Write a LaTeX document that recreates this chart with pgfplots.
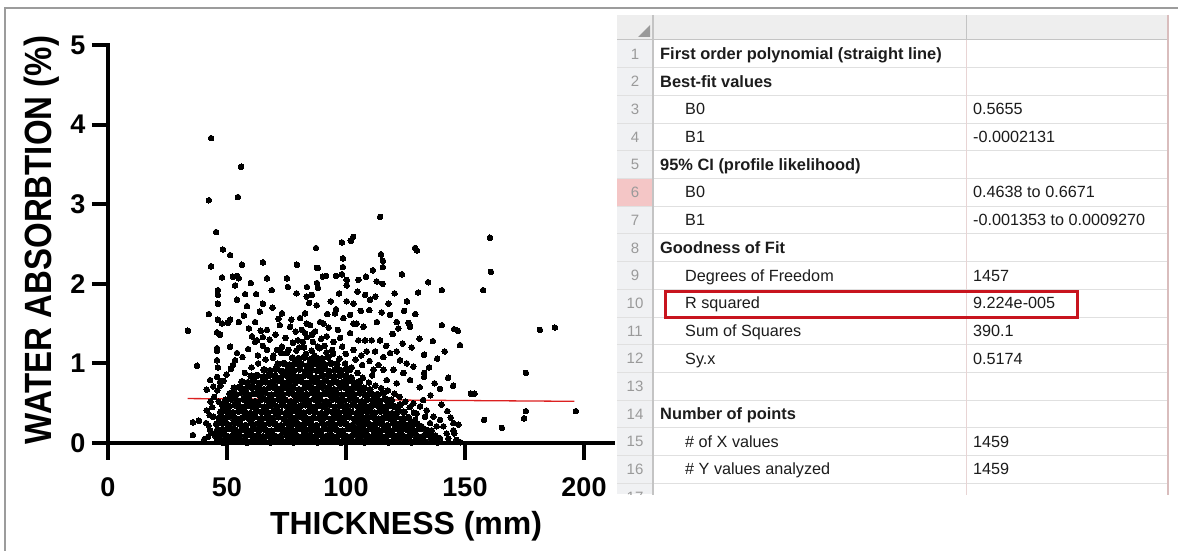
\documentclass[border=0pt]{standalone}
\usepackage{pgfplots}
\pgfplotsset{compat=1.18}
\usepackage{fontspec}
\setmainfont{Liberation Sans}
\definecolor{framec}{HTML}{9C9C9C}
\definecolor{gridc}{HTML}{E0E0E0}
\definecolor{hdrbg}{HTML}{EEEEEE}
\definecolor{numbg}{HTML}{F0F1F3}
\definecolor{numtx}{HTML}{9A9A9A}
\definecolor{numline}{HTML}{C4C4C4}
\definecolor{pinkbg}{HTML}{F4C6C6}
\definecolor{pinkline}{HTML}{E8D4D4}
\definecolor{rightline}{HTML}{D9BDBD}
\definecolor{redbox}{HTML}{C8141E}
\definecolor{fitred}{HTML}{DC2020}
\definecolor{tabtx}{HTML}{1C1C1C}
\begin{document}
\begin{tikzpicture}[x=1pt,y=1pt]
\useasboundingbox (0,0) rectangle (1178,550);
\fill[white] (0,0) rectangle (1178,550);
\begin{scope}[shift={(0,550)},yscale=-1]
% outer frame
\draw[framec, line width=1.6pt] (5,560) -- (5,8) -- (1185,8);
% table backgrounds
\fill[hdrbg] (617,15) rectangle (1168,40);
\fill[numbg] (617,40) rectangle (653,494);
\fill[pinkbg] (617,178.5) rectangle (653,206.2);
\begin{scope}
\clip (610,12) rectangle (1172,494);
\foreach \i in {0,...,17} \draw[gridc, line width=1pt] (617,{40+27.7*\i}) -- (1168,{40+27.7*\i});
\draw[numline, line width=1pt] (617,40) -- (1168,40);
\draw[numline, line width=1.2pt] (653,15) -- (653,500);
\draw[numline, line width=1pt] (966,15) -- (966,40);
\draw[pinkline, line width=1pt] (966,40) -- (966,500);
\draw[rightline, line width=1.4pt] (1168,15) -- (1168,500);
\foreach \i in {1,...,17} \node[anchor=base, inner sep=0pt, text=numtx, font=\fontsize{15}{18}\selectfont] at (635,{40+27.7*(\i-0.5)+5.3}) {\i};
\end{scope}
\fill[numtx] (638,37) -- (650,37) -- (650,25) -- cycle;
% table text
\tikzset{tb/.style={anchor=base west, inner sep=0pt, text=tabtx, font=\fontsize{16.4}{19}\selectfont\bfseries},
         tn/.style={anchor=base west, inner sep=0pt, text=tabtx, font=\fontsize{16.2}{19}\selectfont}}
\node[tb] at (660,59.4) {First order polynomial (straight line)};
\node[tb] at (660,87.1) {Best-fit values};
\node[tn] at (685,114.8) {B0};
\node[tn] at (973,114.8) {0.5655};
\node[tn] at (685,142.5) {B1};
\node[tn] at (973,142.5) {-0.0002131};
\node[tb] at (660,170.2) {95\% CI (profile likelihood)};
\node[tn] at (685,197.9) {B0};
\node[tn] at (973,197.9) {0.4638 to 0.6671};
\node[tn] at (685,225.6) {B1};
\node[tn] at (973,225.6) {-0.001353 to 0.0009270};
\node[tb] at (660,253.3) {Goodness of Fit};
\node[tn] at (685,281.0) {Degrees of Freedom};
\node[tn] at (973,281.0) {1457};
\node[tn] at (685,308.7) {R squared};
\node[tn] at (973,308.7) {9.224e-005};
\node[tn] at (685,336.4) {Sum of Squares};
\node[tn] at (973,336.4) {390.1};
\node[tn] at (685,364.1) {Sy.x};
\node[tn] at (973,364.1) {0.5174};
\node[tb] at (660,419.5) {Number of points};
\node[tn] at (685,447.2) {\# of X values};
\node[tn] at (973,447.2) {1459};
\node[tn] at (685,474.9) {\# Y values analyzed};
\node[tn] at (973,474.9) {1459};
\draw[redbox, line width=3pt] (665,291.5) rectangle (1077,317);
\end{scope}
\begin{axis}[
  at={(108pt,107pt)}, anchor=south west,
  x=2.38pt, y=79.6pt,
  xmin=0, xmax=213, ymin=0, ymax=5,
  axis lines=left,
  axis line style={line width=4pt, -},
  xtick={0,50,100,150,200}, ytick={0,1,2,3,4,5},
  tick align=outside, major tick length=16pt,
  every tick/.style={black, line width=4pt},
  major tick style={black, line width=4pt},
  /pgf/number format/assume math mode=true,
  ticklabel style={font=\fontsize{27}{27}\selectfont\bfseries},
  xticklabel style={yshift=-15pt},
  yticklabel style={xshift=-3pt},
  xlabel={THICKNESS (mm)},
  xlabel style={font=\fontsize{32}{32}\selectfont\bfseries, at={(axis description cs:0.588,-0.231)}, anchor=base},
  ylabel={\scalebox{1}[1.15]{WATER ABSORBTION (\%)}},
  ylabel style={font=\fontsize{33}{33}\selectfont\bfseries, at={(axis description cs:-0.1124,0.51)}, anchor=base},
  clip=false,
]
\addplot[fitred, line width=1.3pt] coordinates {(33.5,0.5584) (196,0.5237)};
% dense core of the cloud
\addplot[only marks, mark=*, mark size=3.3pt, mark options={fill=black, draw=black, line width=0pt}] coordinates {
(46.0,0.03)(48.4,0.01)(51.1,0.04)(53.5,0.02)(55.8,0.03)(58.4,0.01)(60.9,0.04)(63.2,0.02)(65.7,0.03)(68.3,0.01)(70.6,0.04)(73.1,0.02)(75.7,0.03)(78.0,0.01)(80.6,0.03)(83.1,0.02)(85.4,0.04)(88.0,0.01)(90.5,0.03)(92.9,0.02)(95.4,0.04)(97.9,0.01)(100.3,0.03)(102.8,0.02)(105.4,0.04)(107.7,0.01)(110.3,0.03)(112.8,0.02)(115.2,0.04)(117.8,0.01)(120.1,0.03)(122.7,0.02)(125.2,0.04)(127.6,0.01)(130.3,0.03)(133.0,0.02)(135.8,0.04)(138.4,0.01)
(45.3,0.09)(47.6,0.10)(50.2,0.08)(52.7,0.10)(55.0,0.09)(57.6,0.08)(60.1,0.10)(62.5,0.09)(65.0,0.08)(67.4,0.10)(69.9,0.09)(72.4,0.08)(74.9,0.10)(77.3,0.09)(79.9,0.08)(82.3,0.10)(84.8,0.09)(87.2,0.08)(89.7,0.10)(92.2,0.09)(94.6,0.08)(97.1,0.10)(99.6,0.09)(102.1,0.08)(104.5,0.10)(107.0,0.09)(109.5,0.08)(111.9,0.10)(114.4,0.09)(116.9,0.08)(119.4,0.10)(121.8,0.09)(124.3,0.08)(126.9,0.10)(129.5,0.09)(132.2,0.08)(134.9,0.10)(137.5,0.09)
(46.1,0.17)(48.7,0.16)(51.2,0.18)(53.6,0.16)(56.2,0.17)(58.7,0.15)(61.1,0.18)(63.6,0.16)(66.1,0.17)(68.6,0.15)(71.1,0.18)(73.5,0.16)(76.0,0.17)(78.6,0.15)(81.0,0.18)(83.5,0.16)(86.0,0.17)(88.5,0.15)(91.0,0.18)(93.4,0.16)(95.9,0.17)(98.4,0.15)(100.9,0.18)(103.4,0.16)(105.8,0.17)(108.3,0.15)(110.8,0.18)(113.3,0.16)(115.8,0.17)(118.2,0.15)(120.7,0.18)(123.2,0.16)(125.8,0.17)(128.4,0.15)(131.1,0.18)(133.6,0.16)
(45.6,0.24)(47.9,0.25)(50.4,0.23)(52.9,0.25)(55.4,0.24)(57.9,0.22)(60.3,0.25)(62.8,0.24)(65.3,0.23)(67.8,0.25)(70.2,0.24)(72.7,0.22)(75.2,0.25)(77.7,0.24)(80.2,0.23)(82.7,0.25)(85.2,0.24)(87.6,0.22)(90.1,0.25)(92.6,0.24)(95.1,0.23)(97.6,0.25)(100.1,0.24)(102.5,0.22)(105.0,0.25)(107.5,0.24)(110.0,0.23)(112.5,0.25)(115.0,0.24)(117.4,0.22)(119.9,0.25)(122.4,0.24)(124.9,0.23)(127.4,0.25)(129.9,0.24)
(46.8,0.32)(49.2,0.31)(51.7,0.33)(54.2,0.30)(56.7,0.32)(59.1,0.31)(61.6,0.33)(64.1,0.30)(66.6,0.32)(69.0,0.31)(71.5,0.33)(74.0,0.30)(76.5,0.32)(79.0,0.31)(81.4,0.33)(83.9,0.30)(86.4,0.32)(88.9,0.31)(91.3,0.33)(93.8,0.30)(96.3,0.32)(98.8,0.31)(101.3,0.33)(103.7,0.30)(106.2,0.32)(108.7,0.31)(111.2,0.33)(113.6,0.30)(116.1,0.32)(118.6,0.31)(121.1,0.33)(123.6,0.30)(126.2,0.32)
(47.4,0.39)(49.9,0.40)(52.4,0.38)(54.9,0.40)(57.4,0.39)(59.8,0.37)(62.3,0.40)(64.8,0.39)(67.3,0.38)(69.8,0.40)(72.2,0.39)(74.7,0.37)(77.2,0.40)(79.7,0.39)(82.2,0.38)(84.6,0.40)(87.1,0.39)(89.6,0.37)(92.1,0.40)(94.6,0.39)(97.0,0.38)(99.5,0.40)(102.0,0.39)(104.5,0.37)(107.0,0.40)(109.4,0.39)(111.9,0.38)(114.4,0.40)(116.9,0.39)(119.4,0.37)(121.8,0.40)(124.3,0.39)
(48.3,0.47)(50.8,0.46)(53.3,0.48)(55.7,0.45)(58.2,0.47)(60.7,0.46)(63.2,0.48)(65.7,0.45)(68.1,0.47)(70.6,0.46)(73.1,0.48)(75.6,0.45)(78.1,0.47)(80.5,0.46)(83.0,0.48)(85.5,0.45)(88.0,0.47)(90.5,0.46)(92.9,0.48)(95.4,0.45)(97.9,0.47)(100.4,0.46)(102.9,0.48)(105.3,0.45)(107.8,0.47)(110.3,0.46)(112.8,0.48)(115.3,0.45)(117.7,0.47)(120.2,0.46)(122.7,0.48)
(49.5,0.54)(52.0,0.55)(54.5,0.53)(57.0,0.55)(59.4,0.54)(61.9,0.52)(64.4,0.55)(66.9,0.54)(69.4,0.53)(71.8,0.55)(74.3,0.54)(76.8,0.52)(79.3,0.55)(81.8,0.54)(84.2,0.53)(86.7,0.55)(89.2,0.54)(91.7,0.52)(94.2,0.55)(96.6,0.54)(99.1,0.53)(101.6,0.55)(104.1,0.54)(106.6,0.52)(109.0,0.55)(111.5,0.54)(114.0,0.53)(116.5,0.55)(119.0,0.54)
(51.2,0.62)(53.7,0.61)(56.2,0.63)(58.6,0.60)(61.1,0.62)(63.6,0.61)(66.1,0.63)(68.6,0.60)(71.0,0.62)(73.5,0.61)(76.0,0.63)(78.5,0.60)(81.0,0.62)(83.4,0.61)(85.9,0.63)(88.4,0.60)(90.9,0.62)(93.4,0.61)(95.8,0.63)(98.3,0.60)(100.8,0.62)(103.3,0.61)(105.8,0.63)(108.2,0.60)(110.7,0.62)(113.2,0.61)(115.7,0.63)
(53.0,0.69)(55.4,0.70)(57.9,0.68)(60.4,0.70)(62.9,0.69)(65.4,0.67)(67.8,0.70)(70.3,0.69)(72.8,0.68)(75.3,0.70)(77.8,0.69)(80.2,0.67)(82.7,0.70)(85.2,0.69)(87.7,0.68)(90.2,0.70)(92.6,0.69)(95.1,0.67)(97.6,0.70)(100.1,0.69)(102.6,0.68)(105.0,0.70)(107.5,0.69)(110.0,0.67)
(56.3,0.77)(58.8,0.76)(61.3,0.78)(63.7,0.75)(66.2,0.77)(68.7,0.76)(71.2,0.78)(73.7,0.75)(76.1,0.77)(78.6,0.76)(81.1,0.78)(83.6,0.75)(86.1,0.77)(88.5,0.76)(91.0,0.78)(93.5,0.75)(96.0,0.77)(98.5,0.76)(100.9,0.78)(103.4,0.75)(105.6,0.77)
(60.2,0.84)(62.7,0.85)(65.2,0.83)(67.6,0.85)(70.1,0.84)(72.6,0.82)(75.1,0.85)(77.6,0.84)(80.0,0.83)(82.5,0.85)(85.0,0.84)(87.5,0.82)(90.0,0.85)(92.4,0.84)(94.9,0.83)(97.4,0.85)(99.9,0.84)(102.2,0.82)
(65.6,0.92)(68.1,0.91)(70.6,0.93)(73.0,0.90)(75.5,0.92)(78.0,0.91)(80.5,0.93)(83.0,0.90)(85.4,0.92)(87.9,0.91)(90.4,0.93)(92.9,0.90)(95.4,0.92)(97.8,0.91)(100.2,0.93)
(71.4,0.99)(73.9,1.00)(76.4,0.98)(78.8,1.00)(81.3,0.99)(83.8,0.97)(86.3,1.00)(88.8,0.99)(91.2,0.98)(93.7,1.00)(96.2,0.99)
(77.5,1.07)(80.0,1.06)(82.5,1.08)(85.0,1.05)(87.4,1.07)(89.9,1.06)(92.4,1.08)
};
% remaining points
\addplot[only marks, mark=*, mark size=2.8pt, mark options={fill=black, draw=black, line width=0pt}] coordinates {
(40.5,0.05)(42.3,0.22)(43.8,0.45)(44.6,0.58)(45.9,0.66)(47.2,0.72)(48.5,0.78)(49.8,0.86)(51.6,0.93)(44.1,0.12)(42.7,0.35)(46.5,0.52)
(57.5,0.88)(60.3,0.95)(63.1,1.00)(66.2,1.05)(69.5,1.10)(72.8,1.13)(75.8,1.17)(79.1,1.16)(82.4,1.20)(85.6,1.16)(88.9,1.19)(91.8,1.14)(94.6,1.12)(97.3,1.06)(99.6,1.00)(102.4,0.95)(104.8,0.88)(107.1,0.82)(109.6,0.76)(112.3,0.72)(114.8,0.69)(117.6,0.66)(120.3,0.62)(122.5,0.58)(124.9,0.52)(126.8,0.45)(128.5,0.38)
(43.3,3.83)(55.9,3.47)(42.4,3.05)(54.6,3.09)(45.4,2.65)(48.3,2.43)(51.3,2.36)(87.4,2.45)(43.3,2.22)(56.3,2.24)(65.1,2.27)(79.4,2.24)(87.8,2.20)(47.9,2.08)(52.5,2.09)(54.2,2.10)(55.0,2.07)(66.8,2.07)(75.2,2.07)
(114.3,2.84)(160.5,2.58)(160.9,2.15)(98.3,2.52)(102.0,2.54)(103.0,2.59)(98.7,2.32)(98.7,2.21)(98.3,2.12)(114.7,2.37)(115.5,2.29)(115.5,2.21)(111.3,2.17)(108.4,2.09)(129.0,2.45)(129.8,2.42)(123.5,2.12)(88.2,2.20)(90.3,2.09)(91.6,2.10)(95.8,2.10)
(181.5,1.42)(187.8,1.45)(175.6,0.88)(175.6,0.40)(174.8,0.31)(196.6,0.40)(158.0,0.29)(165.5,0.19)(152.5,0.62)(154.0,0.62)(157.6,1.92)(140.3,1.92)(134.5,2.02)(130.3,1.89)(125.6,1.78)(140.3,1.48)(145.4,1.43)(147.0,1.41)(147.9,1.23)(142.9,0.82)(145.0,0.72)(139.5,0.68)(132.8,1.11)(134.9,0.95)(132.8,0.88)(132.8,0.83)(132.4,0.54)(148.0,0.01)
(33.6,1.41)(37.4,0.97)(35.7,0.26)(35.7,0.10)(38.2,0.28)(41.2,0.25)(42.4,1.62)(46.2,1.92)(46.2,1.86)(46.2,1.75)(53.4,1.98)(57.6,1.87)(62.2,1.87)(75.6,1.96)
(54.2,1.80)(58.4,1.72)(65.1,1.75)(46.2,1.55)(47.9,1.50)(51.3,1.55)(50.4,1.51)(55.0,1.52)(59.2,1.44)(61.8,1.52)(45.8,1.39)(47.1,1.36)
(45.8,1.19)(45.8,1.16)(51.3,1.21)(54.2,1.13)(53.4,1.04)(52.5,0.98)(45.8,1.04)(46.2,0.95)(42.9,0.79)(45.8,0.83)(47.1,0.77)
(61.8,1.27)(62.6,1.29)(65.1,1.22)(66.8,1.17)(63.0,1.10)(69.3,1.07)(73.1,1.21)(71.0,1.17)(75.2,1.13)(77.7,1.26)(79.8,1.29)(81.9,1.27)(83.6,1.33)(85.7,1.36)(86.1,1.27)(88.2,1.21)
(73.1,1.63)(80.7,1.57)(84.5,1.76)(85.7,1.86)(88.2,1.95)(83.6,1.96)(87.8,2.01)(76.5,1.46)(81.5,1.42)(84.9,1.48)(66.8,1.42)(65.1,1.33)
(83.5,1.84)(82.8,1.63)(87.7,1.73)(100.3,2.05)(100.3,1.98)(105.2,2.05)(112.9,2.03)(115.4,2.00)(83.5,1.50)(89.1,1.52)(90.5,1.50)(95.4,1.63)(95.8,1.68)(100.3,1.78)(103.1,1.75)(98.9,1.57)(101.7,1.61)(103.1,1.50)(104.5,1.50)(107.3,1.46)(108.0,1.86)(110.1,1.80)(109.8,1.67)(115.0,1.64)(117.8,1.75)(118.5,1.61)(121.3,1.52)(122.0,1.44)(126.2,1.51)(126.9,1.46)
(82.8,1.38)(87.0,1.40)(91.9,1.34)(94.7,1.27)(97.5,1.32)(101.7,1.38)(105.2,1.29)(108.0,1.29)(110.8,1.29)(114.3,1.29)(103.1,1.17)(108.7,1.15)(112.2,1.15)(115.7,1.08)(118.5,1.13)(121.3,1.15)(122.7,1.04)(125.5,1.00)(128.3,0.96)(124.1,0.88)(126.9,0.79)(101.7,0.92)(111.5,0.92)(115.7,0.92)(119.9,0.92)(117.1,0.79)(121.3,0.75)
(128.3,0.50)(131.1,0.46)(129.7,0.37)(133.9,0.41)(136.7,0.33)(139.5,0.29)(135.3,0.25)(138.1,0.21)(140.9,0.21)(142.3,0.12)(145.1,0.16)(129.0,0.29)(131.8,0.21)(133.9,0.12)(129.7,0.10)(136.7,0.08)(139.5,0.06)(143.0,0.06)(146.5,0.04)(127.6,0.21)(130.4,0.04)(133.2,0.33)(136.0,0.16)(145.1,0.25)(147.2,0.23)(145.5,0.12)
(41.5,0.41)(42.9,0.16)(44.2,0.33)(42.1,0.08)(41.5,0.67)(44.2,0.71)(43.1,0.52)
(56.5,1.08)(58.9,1.18)(60.5,1.34)(64.2,1.41)(67.9,1.30)(70.4,1.36)(72.2,1.48)(74.6,1.32)(77.0,1.55)(78.9,1.40)(80.3,1.20)(83.2,1.12)(86.8,1.10)(89.6,1.31)(90.9,1.22)(92.7,1.45)(94.2,1.17)(96.6,1.42)(98.4,1.21)(99.9,1.12)(104.0,1.05)(106.4,1.10)(106.8,0.98)(109.9,1.03)(111.0,0.85)(113.7,0.98)(116.9,1.22)(119.6,1.37)(123.8,1.25)(127.6,1.20)(130.9,1.31)(57.1,1.60)(63.8,1.65)(69.1,1.70)(71.6,1.56)(92.1,1.62)(93.6,1.78)(97.1,1.88)(104.8,1.90)(112.3,1.84)(120.4,1.88)(68.8,1.92)(79.2,1.88)(60.0,2.01)(106.2,1.66)(113.0,1.52)(124.4,1.66)(129.1,1.62)(136.5,1.28)(138.3,1.06)(141.5,1.15)(137.2,0.75)(131.0,0.70)(135.5,0.60)(140.1,0.48)(142.6,0.40)(144.0,0.32)
};
% y tick marks at full weight
\draw[black, line width=4pt] (axis cs:0,0) -- (axis cs:-6.7,0);
\draw[black, line width=4pt] (axis cs:0,1) -- (axis cs:-6.7,1);
\draw[black, line width=4pt] (axis cs:0,2) -- (axis cs:-6.7,2);
\draw[black, line width=4pt] (axis cs:0,3) -- (axis cs:-6.7,3);
\draw[black, line width=4pt] (axis cs:0,4) -- (axis cs:-6.7,4);
\draw[black, line width=4pt] (axis cs:0.8,5) -- (axis cs:-6.7,5);
\end{axis}
% x tick marks at full weight (positions of x = 0, 50, 100, 150, 200)
\foreach \tx in {108,227,346,465,584} \fill[black] ({\tx-2},109) rectangle ({\tx+2},90);
\end{tikzpicture}
\end{document}
